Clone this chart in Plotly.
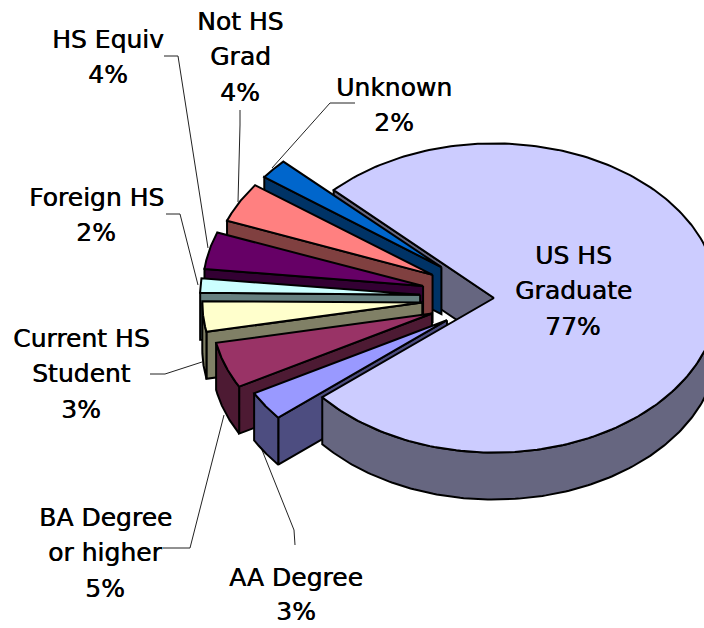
import numpy as np
import plotly.graph_objects as go

# Data, in drawing order around the pie (counter-clockwise from the top of the gap)
categories = ["Unknown", "Not HS Grad", "HS Equiv", "Foreign HS",
              "Current HS Student", "BA Degree or higher", "AA Degree", "US HS Graduate"]
values = [2.2, 4.3, 4.0, 1.6, 3.3, 4.9, 3.1, 76.6]
label_lines = [["Unknown"], ["Not HS", "Grad"], ["HS Equiv"], ["Foreign HS"],
               ["Current HS", "Student"], ["BA Degree", "or higher"], ["AA Degree"],
               ["US HS", "Graduate"]]

# Styles
top_colors = ["#0066CC", "#FF8080", "#660066", "#CCFFFF", "#FFFFCC", "#993366", "#9999FF", "#CCCCFF"]
wall_colors = ["#003366", "#804040", "#330033", "#668080", "#808066", "#4D1A33", "#4D4D80", "#666680"]
pull_px = [69, 70, 73, 74, 72, 66, 57, 0]
radius_px = [220, 220, 220, 220, 220, 220, 220, 224]

# Layout of the pie and labels
CX, CY = 494, 298
SQUASH = 0.69
DEPTH = 47
START_DEG = 135.7
FONT = "DejaVu Sans"
FONT_SIZE = 25
label_step = [35.5, 35.5, 35.5, 35.5, 35.5, 35.5, 34, 35.5]
label_x = [394, 240, 108, 96, 81, 105, 296, 573]
label_y = [87, 21, 39, 197, 338, 517, 577, 255]
leader_x = [[355, 330, 272], [240, 240, 238], [164, 178, 208], [166, 180, 198],
            [150, 165, 202], [163, 190, 224], [295, 294, 262], []]
leader_y = [[103, 103, 168], [110, 125, 202], [56, 56, 248], [214, 214, 285],
            [374, 374, 362], [548, 548, 415], [545, 530, 450], []]


def pt(angle, radius, apex):
    a = np.radians(angle)
    return apex[0] + radius * np.cos(a), apex[1] - radius * SQUASH * np.sin(a)


def poly(xs, ys, color, name):
    return go.Scatter(x=list(xs), y=list(ys), mode="lines", fill="toself", fillcolor=color,
                      line=dict(color="#000000", width=2), hoverinfo="text", text=name,
                      showlegend=False)


fractions = np.array(values) / sum(values) * 360
edges = START_DEG + np.concatenate([[0], np.cumsum(fractions)])

fig = go.Figure()

for lx, ly in zip(leader_x, leader_y):
    if lx:
        fig.add_trace(go.Scatter(x=lx, y=ly, mode="lines", line=dict(color="#222222", width=1),
                                 hoverinfo="skip", showlegend=False))


def slice_parts(i):
    a, b = edges[i], edges[i + 1]
    mid = np.radians((a + b) / 2)
    apex = (CX + pull_px[i] * np.cos(mid), CY - pull_px[i] * SQUASH * np.sin(mid))
    r = radius_px[i]
    name = f"{categories[i]}: {round(values[i])}%"
    ox, oy = pt(b, r, apex)
    radial = poly([apex[0], ox, ox, apex[0], apex[0]],
                  [apex[1], oy, oy + DEPTH, apex[1] + DEPTH, apex[1]], wall_colors[i], name)
    parts = []
    lo, hi = max(a, 180), min(b, 360)
    if hi > lo:
        t = np.linspace(lo, hi, 160)
        wx, wy = pt(t, r, apex)
        parts.append(poly(np.r_[wx, wx[::-1], wx[0]], np.r_[wy, wy[::-1] + DEPTH, wy[0]],
                          wall_colors[i], name))
    t = np.linspace(a, b, 240)
    tx, ty = pt(t, r, apex)
    top = poly(np.r_[apex[0], tx, apex[0]], np.r_[apex[1], ty, apex[1]], top_colors[i], name)
    return radial, parts, top


main = len(values) - 1
main_radial, main_walls, main_top = slice_parts(main)
fig.add_trace(main_radial)
for i in range(main):
    radial, parts, top = slice_parts(i)
    fig.add_trace(radial)
    for p in parts:
        fig.add_trace(p)
    fig.add_trace(top)
for p in main_walls:
    fig.add_trace(p)
fig.add_trace(main_top)

for i, lines in enumerate(label_lines):
    all_lines = lines + [f"{round(values[i])}%"]
    for j, text in enumerate(all_lines):
        fig.add_annotation(x=label_x[i], y=label_y[i] + j * label_step[i], text=text, showarrow=False,
                           xanchor="center", yanchor="middle",
                           font=dict(family=FONT, size=FONT_SIZE, color="#000000",
                                     shadow="0.5px 0 0 #000000"))

fig.update_layout(
    width=704, height=628, margin=dict(l=0, r=0, t=0, b=0),
    paper_bgcolor="#FFFFFF", plot_bgcolor="#FFFFFF", showlegend=False,
    xaxis=dict(range=[0, 704], visible=False, fixedrange=True),
    yaxis=dict(range=[628, 0], visible=False, fixedrange=True),
)
fig.write_html("out.html", config={"displayModeBar": False},
               post_script="document.body.style.margin='0';document.body.style.overflow='hidden';")
